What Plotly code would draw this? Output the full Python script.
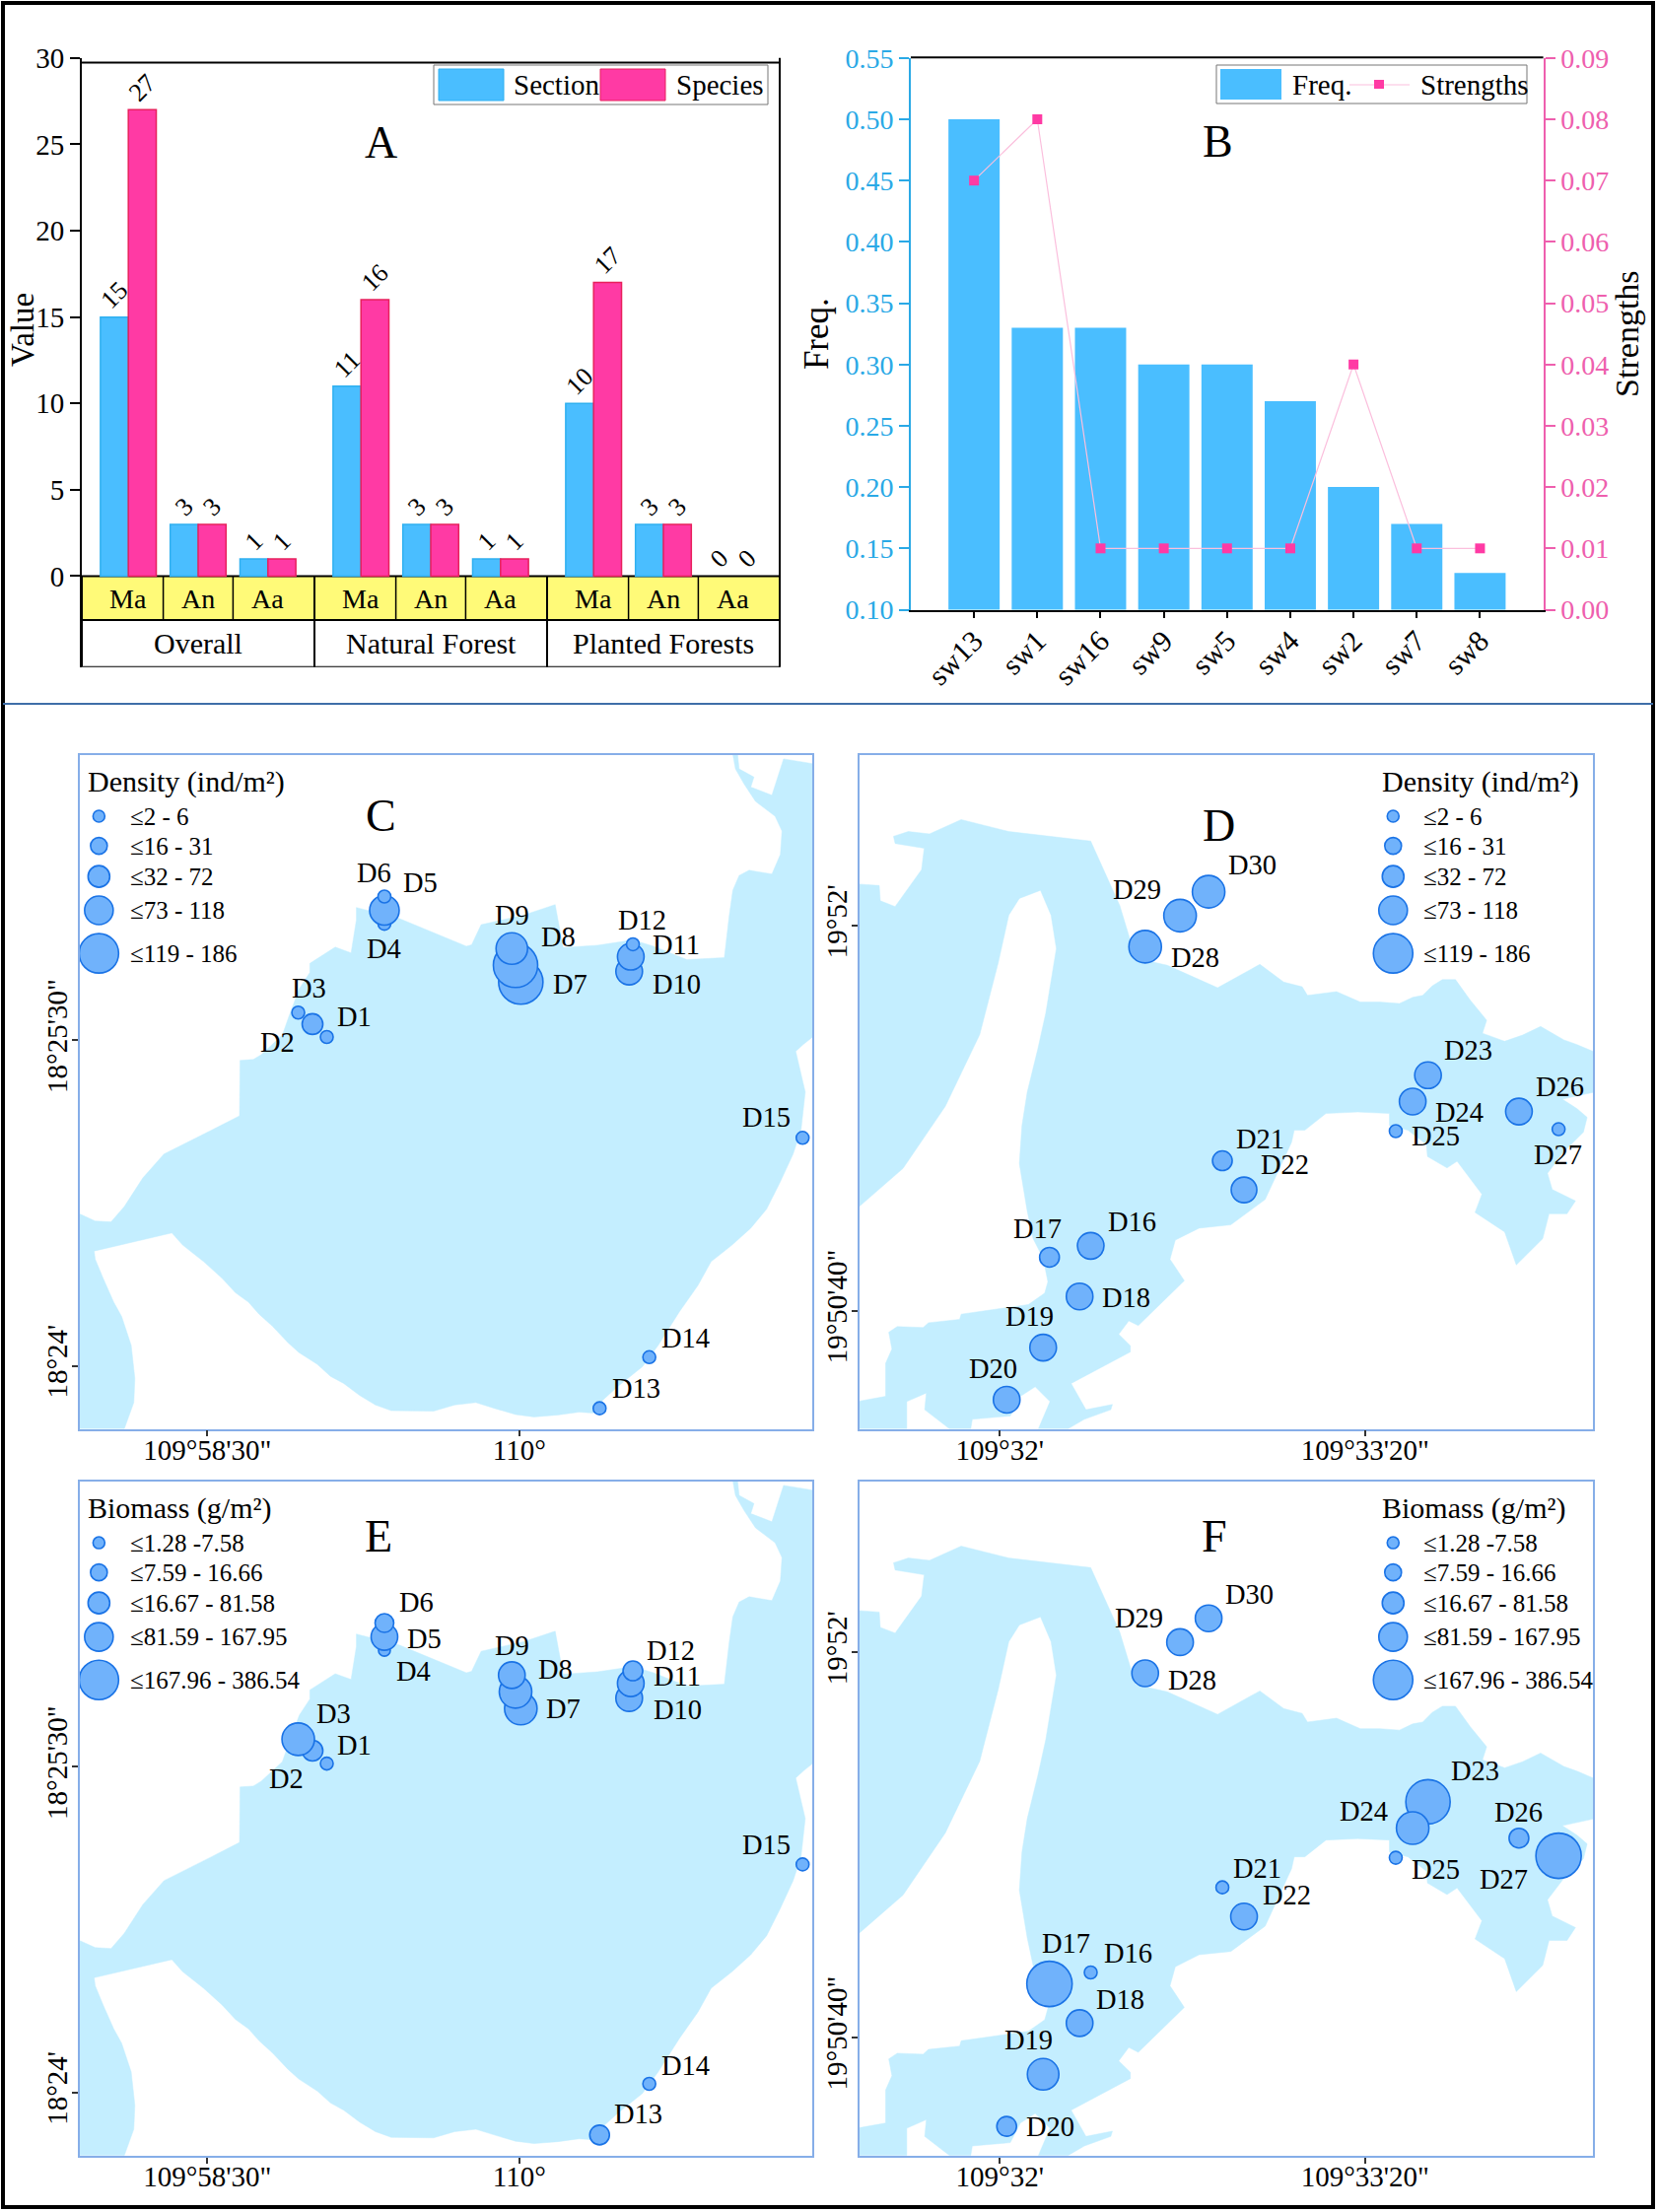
import plotly.graph_objects as go

W, H = 1682, 2244
FONT = "Liberation Serif"

# ---------- Panel A data
groups = ["Overall", "Natural Forest", "Planted Forests"]
sub_cats = ["Ma", "An", "Aa"]
section = [15, 3, 1, 11, 3, 1, 10, 3, 0]
species = [27, 3, 1, 16, 3, 1, 17, 3, 0]

# ---------- Panel B data
sw_names = ["sw13", "sw1", "sw16", "sw9", "sw5", "sw4", "sw2", "sw7", "sw8"]
freq = [0.50, 0.33, 0.33, 0.30, 0.30, 0.27, 0.20, 0.17, 0.13]
strengths = [0.07, 0.08, 0.01, 0.01, 0.01, 0.01, 0.04, 0.01, 0.01]

# ---------- Maps: stations in map grid units
west_x = [618, 591, 564, 727, 727, 727, 985, 975, 968, 1190, 1193, 1197, 1134, 1228, 1518]
west_y = [685, 658, 634, 448, 420, 391, 570, 535, 500, 548, 517, 491, 1462, 1355, 896]
west_names = ["D%d" % i for i in range(1, 16)]
west_density = [13, 21, 13, 13, 30, 13, 45, 45, 32, 27, 27, 13, 13, 13, 13]
west_biomass = [13, 21, 33, 12, 27, 19, 33, 33, 27, 27, 27, 20, 20, 13, 13]
west_label_c_x = [670, 525, 584, 727, 795, 708, 1078, 1057, 968, 1279, 1279, 1215, 1203, 1297, 1450]
west_label_c_y = [643, 697, 583, 500, 363, 342, 575, 475, 430, 575, 493, 440, 1420, 1315, 853]
west_label_e_x = [670, 541, 631, 782, 803, 787, 1066, 1050, 968, 1281, 1280, 1269, 1207, 1297, 1450]
west_label_e_y = [646, 716, 581, 493, 423, 347, 571, 488, 438, 573, 502, 448, 1417, 1316, 855]

east_x = [495, 417, 474, 405, 336, 744, 785, 1133, 1104, 1072, 1305, 1380, 598, 664, 718]
east_y = [1122, 1146, 1228, 1335, 1444, 944, 1005, 765, 820, 882, 841, 878, 496, 431, 381]
east_names = ["D%d" % i for i in range(16, 31)]
east_density = [27, 20, 27, 27, 27, 20, 26, 27, 27, 13, 27, 13, 33, 33, 33]
east_biomass = [13, 46, 27, 32, 20, 13, 27, 45, 33, 13, 20, 46, 27, 27, 27]
east_label_d_x = [573, 394, 562, 380, 311, 815, 862, 1210, 1192, 1148, 1383, 1379, 692, 582, 800]
east_label_d_y = [1072, 1086, 1230, 1270, 1380, 898, 953, 712, 842, 893, 790, 932, 518, 376, 325]
east_label_f_x = [565, 449, 550, 377, 419, 810, 866, 1222, 1012, 1148, 1305, 1276, 687, 587, 795]
east_label_f_y = [1081, 1061, 1179, 1264, 1445, 904, 960, 700, 784, 907, 787, 927, 511, 381, 332]

# Coast outlines in the same grid units
west_coast_x = [1537, 1482, 1460, 1420, 1426, 1398, 1395, 1386, 1391, 1407, 1429, 1466, 1479, 1476, 1460, 1417, 1398, 1386,
                1379, 1373, 1370, 1299, 1236, 1197, 1130, 1065, 1050, 990, 910, 892, 882, 755, 674, 674, 664, 634, 586, 586,
                566, 547, 534, 494, 479, 454, 453, 400, 310, 270, 235, 210, 180, 150, 150, 235, 253, 255, 248, 230, 215, 195,
                180, 178, 325, 345, 385, 420, 445, 470, 490, 515, 545, 565, 600, 625, 650, 680, 710, 740, 780, 820, 860, 900,
                935, 975, 1010, 1055, 1095, 1122, 1140, 1170, 1215, 1245, 1265, 1285, 1320, 1345, 1385, 1420, 1450, 1475,
                1500, 1515, 1523, 1510, 1505, 1520, 1537]
west_coast_y = [113, 103, 179, 162, 141, 124, 93, 93, 124, 155, 192, 223, 254, 303, 344, 336, 347, 378,
                433, 488, 519, 523, 495, 482, 493, 498, 408, 430, 450, 492, 495, 437, 414, 440, 509, 497, 531, 550,
                584, 640, 681, 722, 732, 734, 850, 880, 930, 980, 1040, 1072, 1070, 1055, 1505, 1505, 1450, 1400, 1330, 1270, 1240, 1190,
                1150, 1133, 1095, 1120, 1155, 1190, 1220, 1240, 1265, 1290, 1325, 1345, 1370, 1395, 1410, 1435, 1455, 1467, 1467, 1468, 1455, 1450,
                1462, 1475, 1480, 1476, 1470, 1472, 1445, 1415, 1375, 1330, 1295, 1260, 1205, 1155, 1120, 1085, 1045, 990,
                930, 880, 800, 740, 715, 700, 685]

east_coast_x = [57, 95, 97, 125, 175, 180, 125, 122, 150, 190, 250, 340, 495, 550, 580, 640, 735, 815, 860, 895, 905, 960,
                1005, 1042, 1079, 1104, 1123, 1141, 1160, 1185, 1213, 1244, 1236, 1278, 1312, 1346, 1390, 1415, 1445, 1445,
                1387, 1415, 1434, 1427, 1390, 1359, 1368, 1412, 1396, 1362, 1350, 1300, 1278, 1222, 1235, 1188, 1169, 1132,
                1130, 1095, 1060, 1060, 1000, 940, 900, 880, 875, 825, 760, 700, 655, 645, 672, 585, 567, 548, 570, 570, 458,
                486, 536, 533, 483, 452, 396, 418, 390, 362, 343, 271, 268, 228, 181, 184, 147, 147, 57, 57, 107, 107, 119,
                113, 129, 178, 188, 247, 250, 315, 377, 408, 414, 405, 386, 375, 360, 365, 375, 395, 410, 430, 420, 400, 360,
                340, 320, 285, 220, 140, 57]
east_coast_y = [365, 368, 400, 412, 335, 290, 280, 265, 255, 260, 230, 255, 275, 410, 520, 535, 582, 533, 570, 580, 598, 590,
                612, 612, 615, 602, 598, 578, 565, 565, 608, 650, 677, 694, 681, 663, 691, 701, 715, 801,
                815, 835, 853, 884, 925, 970, 1004, 1028, 1055, 1055, 1107, 1162, 1093, 1052, 1014, 945, 959, 935,
                910, 880, 870, 845, 842, 845, 880, 880, 905, 1025, 1078, 1085, 1110, 1150, 1195, 1289, 1279, 1307, 1331, 1344, 1410,
                1465, 1454, 1465, 1485, 1505, 1505, 1448, 1417, 1437, 1478, 1485, 1505, 1505, 1465, 1430, 1448, 1505, 1505, 1447, 1437, 1368, 1338,
                1303, 1291, 1293, 1283, 1276, 1265, 1255, 1245, 1221, 1197, 1148, 1107, 1050, 950, 870, 800, 710, 635, 500, 430, 378, 395,
                430, 530, 680, 830, 960, 1040]

# Legend classes
density_title = "Density (ind/m²)"
density_labels = ["≤2 - 6", "≤16 - 31", "≤32 - 72", "≤73 - 118", "≤119 - 186"]
biomass_title = "Biomass (g/m²)"
biomass_labels = ["≤1.28 -7.58", "≤7.59 - 16.66", "≤16.67 - 81.58", "≤81.59 - 167.95", "≤167.96 - 386.54"]
legend_sizes = [12, 17, 22, 29, 40]
legend_rows = [223, 285, 349, 420, 510]

# Styles
BLUE = "#4ABEFF"
PINK = "#FF3AA4"
SEA = "#C4EEFF"
DOT = "#70B2FB"
DOT_LINE = "#1A73E6"
FRAME = "#86AEE8"
YELLOW = "#FFFA78"


def px(x):
    return x / W


def py(y):
    return 1 - y / H


shapes, annotations, traces = [], [], []


def line_px(x0, y0, x1, y1, color="black", width=2):
    shapes.append(dict(type="line", xref="paper", yref="paper", x0=px(x0), y0=py(y0), x1=px(x1), y1=py(y1),
                       line=dict(color=color, width=width)))


def rect_px(x0, y0, x1, y1, fill=None, color=None, width=1):
    shapes.append(dict(type="rect", xref="paper", yref="paper", x0=px(x0), y0=py(y0), x1=px(x1), y1=py(y1),
                       fillcolor=fill or "rgba(0,0,0,0)", line=dict(color=color or "rgba(0,0,0,0)", width=width)))


def text_px(x, y, s, size, anchor="center", color="black", angle=0):
    annotations.append(dict(xref="paper", yref="paper", x=px(x), y=py(y), text=s, showarrow=False, textangle=angle,
                            xanchor=anchor, yanchor="middle", font=dict(family=FONT, size=size, color=color)))


layout_axes = {}

# ---------- Panel A
GROUP_STEP = 10 / 3
xa = [i * GROUP_STEP + j for i in range(3) for j in range(3)]
xa_left, xa_right = -2 / 3, 2 * GROUP_STEP + 2 + 2 / 3
yA_bottom = -5.27
yA_split = -2.54

for name, vals, fill, edge in [("Section", section, BLUE, "#2FB0F0"), ("Species", species, PINK, "#E8205C")]:
    traces.append(go.Bar(x=xa, y=vals, name=name, xaxis="x", yaxis="y", offsetgroup=name,
                         marker=dict(color=fill, line=dict(color=edge, width=[1.5 if v else 0 for v in vals])),
                         text=[str(v) for v in vals], textposition="outside", textangle=-45, cliponaxis=False,
                         constraintext="none", textfont=dict(family=FONT, size=26, color="black"), showlegend=False))

layout_axes["xaxis"] = dict(domain=[px(83), px(791)], range=[xa_left, xa_right], visible=False, anchor="y")
layout_axes["yaxis"] = dict(domain=[py(676.8), py(58.8)], range=[yA_bottom, 30], tickvals=[0, 5, 10, 15, 20, 25, 30],
                            anchor="x", showline=True, linecolor="black", linewidth=2, ticks="outside", ticklen=10,
                            tickwidth=2, tickcolor="black", showgrid=False, zeroline=False,
                            tickfont=dict(family=FONT, size=29, color="black"))
text_px(23, 335, "Value", 33, angle=-90)


def a_shape(x0, y0, x1, y1, fill=None, lw=2):
    shapes.append(dict(type="rect", xref="x", yref="y", x0=x0, y0=y0, x1=x1, y1=y1, layer="below",
                       fillcolor=fill or "rgba(0,0,0,0)", line=dict(color="black", width=lw)))


a_shape(xa_left, yA_split, xa_right, 0, fill=YELLOW)
a_shape(xa_left, yA_bottom, xa_right, yA_split)
for i in range(3):
    base = i * GROUP_STEP
    for j, cat in enumerate(sub_cats):
        annotations.append(dict(xref="x", yref="y", x=base + j, y=-1.31, text=cat, showarrow=False,
                                font=dict(family=FONT, size=28, color="black")))
    for b in (0.5, 1.5):
        shapes.append(dict(type="line", xref="x", yref="y", x0=base + b, x1=base + b, y0=yA_split, y1=0,
                           line=dict(color="black", width=1.5)))
    if i:
        edge = base - 2 / 3
        shapes.append(dict(type="line", xref="x", yref="y", x0=edge, x1=edge, y0=yA_bottom, y1=0,
                           line=dict(color="black", width=2)))
    annotations.append(dict(xref="x", yref="y", x=base + 1, y=-3.9, text=groups[i], showarrow=False,
                            font=dict(family=FONT, size=30, color="black")))
line_px(83, 63.4, 791, 63.4)
line_px(791, 58.8, 791, 676.8)
text_px(386, 145, "A", 46)
rect_px(440, 66, 779, 106, color="#777777", width=1)
rect_px(445, 70, 511, 102, fill=BLUE, color="#2FB0F0")
rect_px(609, 70, 675, 102, fill=PINK, color="#E8205C")
text_px(519, 86, "Section", 29, "left")
text_px(684, 86, "Species", 29, "left")

# ---------- Panel B
C_LEFT = "#2AA9E6"
C_RIGHT = "#EE5FAE"
xb = list(range(len(sw_names)))
traces.append(go.Bar(x=xb, y=freq, name="Freq.", xaxis="x2", yaxis="y2", width=0.81, marker=dict(color=BLUE, line=dict(width=0)),
                     showlegend=False))
traces.append(go.Scatter(x=xb, y=strengths, name="Strengths", xaxis="x2", yaxis="y3", mode="lines+markers",
                         line=dict(color="#FBBFDD", width=1.2),
                         marker=dict(symbol="square", size=10, color=PINK), showlegend=False, cliponaxis=False))
layout_axes["xaxis2"] = dict(domain=[px(924), px(1565.6)], range=[-1, 9], anchor="y2", tickvals=xb, ticktext=sw_names,
                             tickangle=-45, ticks="outside", ticklen=6, tickwidth=2, tickcolor="black", showline=True,
                             linecolor="black", linewidth=2, showgrid=False, zeroline=False, ticklabelstandoff=-6,
                             tickfont=dict(family=FONT, size=30, color="black"))
layout_axes["yaxis2"] = dict(domain=[py(618.5), py(58.8)], range=[0.10, 0.55], anchor="x2", dtick=0.05, tick0=0.10,
                             tickformat=".2f", ticks="outside", ticklen=10, tickwidth=2, tickcolor=C_LEFT, showline=True,
                             linecolor=C_LEFT, linewidth=2, showgrid=False, zeroline=False,
                             tickfont=dict(family=FONT, size=28, color=C_LEFT),
                             title=dict(text="Freq.", font=dict(family=FONT, size=35, color="black"), standoff=6))
layout_axes["yaxis3"] = dict(domain=[py(618.5), py(58.8)], range=[0, 0.09], anchor="x2", overlaying="y2", side="right",
                             dtick=0.01, tick0=0, tickformat=".2f", ticks="outside", ticklen=10, tickwidth=2,
                             tickcolor=C_RIGHT, showline=True, linecolor=C_RIGHT, linewidth=2, showgrid=False,
                             zeroline=False, tickfont=dict(family=FONT, size=28, color=C_RIGHT),
                             title=dict(text="Strengths", font=dict(family=FONT, size=34, color="black"), standoff=3))
line_px(924, 58.3, 1565.6, 58.3)
text_px(1235, 143, "B", 46)
rect_px(1234, 66, 1549, 105, color="#777777", width=1)
rect_px(1238, 70, 1300, 101, fill=BLUE)
text_px(1309, 86, "Freq.", 29, "left")
line_px(1369, 86, 1430, 86, color="#FBBFDD", width=1.2)
rect_px(1394, 81, 1404, 90, fill=PINK)
text_px(1439, 86, "Strengths", 29, "left")


# ---------- Maps
def add_map(idx, left, right, top, bottom, xr, yr, xtv, xtt, ytv, ytt, coast_x, coast_y,
            st_x, st_y, st_sizes, names, lab_x, lab_y, title, labels, legend_x, legend_title_x,
            legend_text_x, letter, letter_pos):
    xa_name, ya_name = "x%d" % idx, "y%d" % idx
    traces.append(go.Scatter(x=coast_x, y=coast_y, xaxis=xa_name, yaxis=ya_name, mode="lines", fill="toself",
                             fillcolor=SEA, line=dict(color=SEA, width=0.5), hoverinfo="skip", showlegend=False))
    traces.append(go.Scatter(x=st_x, y=st_y, xaxis=xa_name, yaxis=ya_name, mode="markers", text=names,
                             marker=dict(size=st_sizes, color=DOT, opacity=1, line=dict(color=DOT_LINE, width=1.6)),
                             showlegend=False, cliponaxis=False))
    traces.append(go.Scatter(x=[legend_x] * len(legend_rows), y=legend_rows, xaxis=xa_name, yaxis=ya_name, mode="markers",
                             marker=dict(size=legend_sizes, color=DOT, opacity=1, line=dict(color=DOT_LINE, width=1.6)),
                             showlegend=False, cliponaxis=False))
    common = dict(showline=True, mirror=True, linecolor=FRAME, linewidth=1.6, showgrid=False, zeroline=False, ticks="outside",
                  ticklen=6, tickwidth=1.5, tickcolor="#333333")
    layout_axes["xaxis%d" % idx] = dict(domain=[px(left), px(right)], range=xr, anchor=ya_name, tickvals=xtv, ticktext=xtt,
                                        tickangle=0, ticklabelstandoff=-11,
                                        tickfont=dict(family=FONT, size=29, color="black"), **common)
    layout_axes["yaxis%d" % idx] = dict(domain=[py(bottom), py(top)], range=yr, anchor=xa_name, tickvals=ytv, ticktext=ytt,
                                        tickangle=-90, ticklabelstandoff=-7,
                                        tickfont=dict(family=FONT, size=29, color="black"), **common)
    f = dict(family=FONT, color="black")
    for n, x, y in zip(names, lab_x, lab_y):
        annotations.append(dict(xref=xa_name, yref=ya_name, x=x, y=y, text=n, showarrow=False, font=dict(size=28.5, **f)))
    annotations.append(dict(xref=xa_name, yref=ya_name, x=legend_title_x, y=150, text=title, xanchor="left", showarrow=False,
                            font=dict(size=30, **f)))
    for lab, y in zip(labels, legend_rows):
        annotations.append(dict(xref=xa_name, yref=ya_name, x=legend_text_x, y=y, text=lab, xanchor="left", showarrow=False,
                                font=dict(size=25, **f)))
    annotations.append(dict(xref=xa_name, yref=ya_name, x=letter_pos[0], y=letter_pos[1], text=letter, showarrow=False,
                            font=dict(size=46, **f)))


west_xr, west_yr = [150, 1537], [1505, 95]
east_xr, east_yr = [57, 1445], [1505, 95]
west_xt, west_xl = [392, 982], ["109°58'30\"", "110°"]
west_yt, west_yl = [692, 1373], ["18°25'30\"", "18°24'"]
east_xt, east_xl = [323, 1014], ["109°32'", "109°33'20\""]
east_yt, east_yl = [452, 1258], ["19°52'", "19°50'40\""]

add_map(4, 80.5, 824.4, 766, 1449.5, west_xr, west_yr, west_xt, west_xl, west_yt, west_yl, west_coast_x, west_coast_y,
        west_x, west_y, west_density, west_names, west_label_c_x, west_label_c_y, density_title, density_labels,
        187, 162, 242, "C", (720, 222))
add_map(5, 871.6, 1616, 766, 1449.5, east_xr, east_yr, east_xt, east_xl, east_yt, east_yl, east_coast_x, east_coast_y,
        east_x, east_y, east_density, east_names, east_label_d_x, east_label_d_y, density_title, density_labels,
        1067, 1042, 1120, "D", (738, 243))
add_map(6, 80.5, 824.4, 1503, 2186.7, west_xr, west_yr, west_xt, west_xl, west_yt, west_yl, west_coast_x, west_coast_y,
        west_x, west_y, west_biomass, west_names, west_label_e_x, west_label_e_y, biomass_title, biomass_labels,
        187, 162, 242, "E", (716, 209))
add_map(7, 871.6, 1616, 1503, 2186.7, east_xr, east_yr, east_xt, east_xl, east_yt, east_yl, east_coast_x, east_coast_y,
        east_x, east_y, east_biomass, east_names, east_label_f_x, east_label_f_y, biomass_title, biomass_labels,
        1067, 1042, 1120, "F", (729, 209))

# ---------- Outer frame
line_px(1, 3, 1679, 3, width=4)
line_px(3, 1, 3, 2241, width=4)
line_px(1677, 1, 1677, 2241, width=4)
line_px(1, 2239, 1679, 2239, width=4)
line_px(3, 714, 1677, 714, color="#3F6EA8", width=2)

fig = go.Figure(data=traces)
fig.update_layout(width=W, height=H, margin=dict(l=0, r=0, t=0, b=0, autoexpand=False), paper_bgcolor="white",
                  plot_bgcolor="white", barmode="group", bargap=0.2, bargroupgap=0, showlegend=False, shapes=shapes,
                  annotations=annotations, font=dict(family=FONT), **layout_axes)
fig.write_html("out.html", post_script="document.body.style.margin='0';document.body.style.overflow='hidden';",
               config=dict(displayModeBar=False))
